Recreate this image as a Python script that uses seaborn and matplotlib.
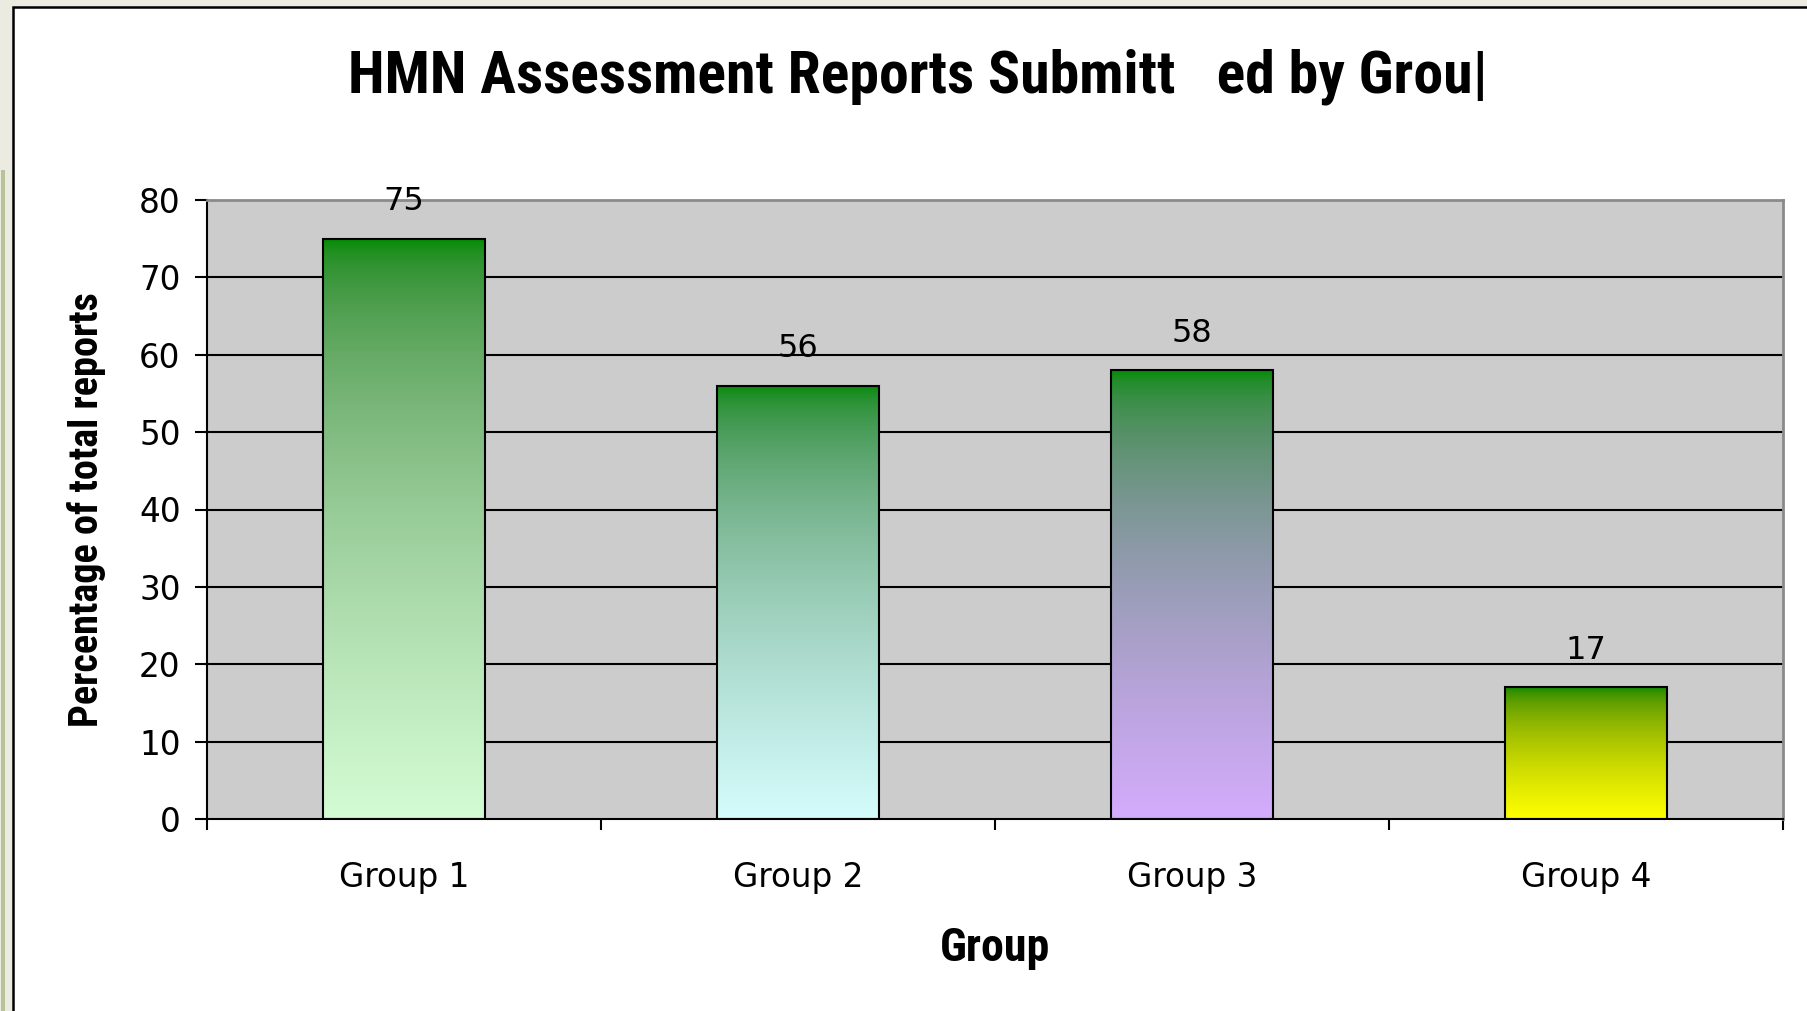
import numpy as np
import pandas as pd
import matplotlib
matplotlib.use("Agg")
import matplotlib.pyplot as plt
import seaborn as sns
from matplotlib.colors import ListedColormap, to_rgb
from matplotlib.patches import Rectangle
import matplotlib.font_manager as fm

# ---- data ----
categories = ["Group 1", "Group 2", "Group 3", "Group 4"]
values = [75, 56, 58, 17]
top_color = "#008c00"
bottom_colors = ["#d4fcd4", "#d4fcfc", "#d4acfc", "#ffff00"]
y_ticks = [0, 10, 20, 30, 40, 50, 60, 70, 80]
title_text = "HMN Assessment Reports Submitt   ed by Grou|"
x_label = "Group"
y_label = "Percentage of total reports"

sns.set_theme(style="white")
plt.rcParams['font.family'] = ['DejaVu Sans']

available = {f.name for f in fm.fontManager.ttflist}
narrow = 'Liberation Sans'
for cand in ['Liberation Sans Narrow', 'Roboto Condensed', 'Open Sans Condensed', 'Noto Sans Condensed']:
    if cand in available:
        narrow = cand
        break


def to_lin(c):
    c = np.asarray(c)
    return np.where(c <= 0.04045, c / 12.92, ((c + 0.055) / 1.055) ** 2.4)


def to_srgb(c):
    c = np.asarray(c)
    return np.where(c <= 0.0031308, c * 12.92, 1.055 * np.power(np.clip(c, 0, 1), 1 / 2.4) - 0.055)


def gradient_cmap(bottom, top, n=256):
    b = to_lin(to_rgb(bottom))
    t = to_lin(to_rgb(top))
    s = np.linspace(0, 1, n).reshape(-1, 1)
    cols = to_srgb(b * (1 - s) + t * s)
    return ListedColormap(np.clip(cols, 0, 1))


W, H = 1807, 1011
fig = plt.figure(figsize=(W / 100, H / 100), dpi=100)
fig.patch.set_facecolor('#ecebe1')

# outer white panel with black frame
fig.add_artist(Rectangle((13 / W, -0.05), 1.2, 1 - 7 / H + 0.05, transform=fig.transFigure,
                         facecolor='white', edgecolor='black', linewidth=1.8, zorder=0))
fig.add_artist(Rectangle((1 / W, 0), 4 / W, (H - 170) / H, transform=fig.transFigure,
                         facecolor='#b7c49a', edgecolor='none', zorder=0))

ax = fig.add_axes([207 / W, 1 - 819 / H, 1576 / W, 619 / H])
df = pd.DataFrame({"group": categories, "value": values})
sns.barplot(data=df, x="group", y="value", ax=ax, width=0.41, color=top_color,
            saturation=1, edgecolor='black', linewidth=1.5, zorder=1)

ax.set_facecolor('#cccccc')

# gradient fill for bars
for p, bc in zip(ax.patches, bottom_colors):
    x0 = p.get_x()
    w = p.get_width()
    h = p.get_height()
    cmap = gradient_cmap(bc, top_color)
    grad = np.linspace(0, 1, 256).reshape(-1, 1)
    im = ax.imshow(grad, extent=[x0, x0 + w, 0, h], origin='lower', cmap=cmap,
                   aspect='auto', zorder=0.9, interpolation='bilinear')
    im.set_clip_path(p)
    p.set_facecolor('none')
    ax.annotate(f"{int(h)}", xy=(x0 + w / 2, h), xytext=(0, 20.5), textcoords='offset points',
                ha='center', va='baseline', fontsize=23, color='black')

ax.set_xlim(-0.5, len(categories) - 0.5)
ax.set_ylim(y_ticks[0], y_ticks[-1])
ax.set_yticks(y_ticks)
ax.set_yticklabels([str(t) for t in y_ticks])

# grid
ax.set_axisbelow(True)
ax.yaxis.grid(True, color='black', linewidth=1.5)
ax.xaxis.grid(False)
gl = ax.yaxis.get_gridlines()
gl[-1].set_visible(False)
gl[0].set_visible(False)

# spines
for s in ['left', 'bottom']:
    ax.spines[s].set_color('black')
    ax.spines[s].set_linewidth(1.5)
for s in ['top', 'right']:
    ax.spines[s].set_color('#8a8a8a')
    ax.spines[s].set_linewidth(2)
    ax.spines[s].set_visible(True)

# ticks
ax.tick_params(axis='y', direction='out', length=9, width=1.5, color='black',
               labelsize=23.5, pad=10, left=True, labelcolor='black')
n = len(categories)
ax.set_xticks(np.arange(-0.5, n, 1.0))
ax.set_xticklabels([])
ax.set_xticks(np.arange(n), minor=True)
ax.set_xticklabels(categories, minor=True)
ax.tick_params(axis='x', which='major', direction='out', length=8, width=1.5, color='black', bottom=True)
ax.tick_params(axis='x', which='minor', length=0, labelsize=23.5, pad=30, labelcolor='black')

ax.set_xlabel(x_label, fontsize=33, fontweight='bold', family=narrow, color='black')
ax.xaxis.set_label_coords(0.5, (819 - 948) / 619)
ax.xaxis.label.set_va('center')
ax.set_ylabel(y_label, fontsize=29, fontweight='bold', family=narrow, color='black')
ax.yaxis.set_label_coords((86 - 207) / 1576, 0.5)
ax.yaxis.label.set_va('center')

fig.text(918 / W, 1 - 77 / H, title_text, ha='center', va='center', fontsize=43,
         fontweight='bold', family=narrow, color='black')

fig.savefig("out.png", dpi=100, facecolor=fig.get_facecolor())
